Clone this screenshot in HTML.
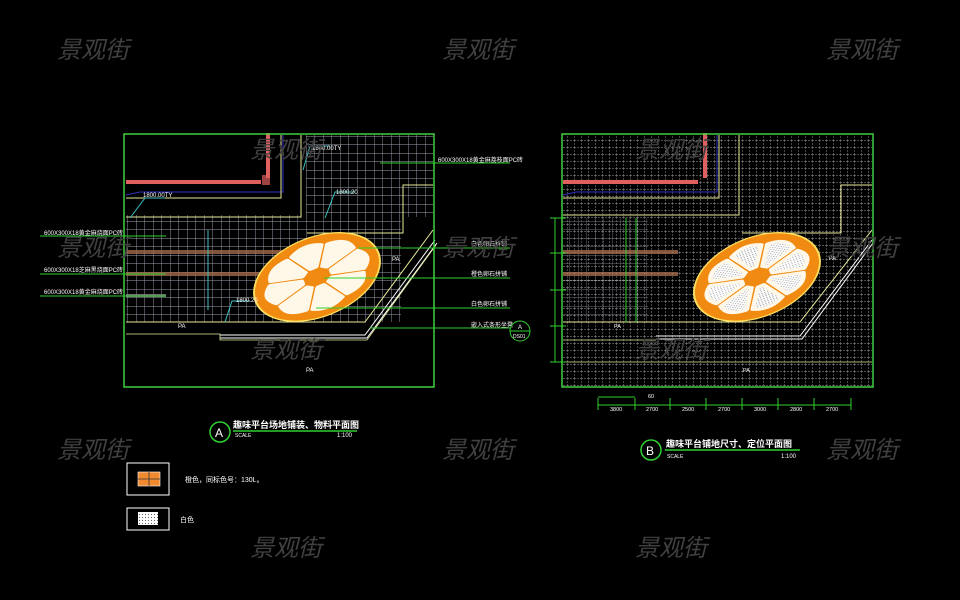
<!DOCTYPE html>
<html><head><meta charset="utf-8"><style>
html,body{margin:0;padding:0;background:#000;}
svg{display:block;}
.wm{font-family:"Liberation Sans","Noto Sans CJK SC",sans-serif;font-size:24px;font-style:italic;fill:#404040;}
.t{font-family:"Liberation Sans","Noto Sans CJK SC",sans-serif;fill:#fff;}
</style></head><body>
<svg width="960" height="600" viewBox="0 0 960 600" xmlns="http://www.w3.org/2000/svg">
<defs>
<pattern id="g1" width="8.5" height="8.5" patternUnits="userSpaceOnUse">
<path d="M0 0H8.5M0 0V8.5" stroke="#a0a0b0" stroke-width="0.9" fill="none"/>
</pattern>
<pattern id="g2" width="7" height="7" patternUnits="userSpaceOnUse">
<path d="M0 0H7M0 0V7" stroke="#9a9a9a" stroke-width="0.9" stroke-dasharray="2 1" fill="none"/>
</pattern>
<pattern id="dots" width="3" height="3" patternUnits="userSpaceOnUse">
<rect width="3" height="3" fill="#fff"/><circle cx="1.5" cy="1.5" r="0.6" fill="#666"/>
</pattern>
<path id="pet" d="M16,-3 L47,-16 Q60,0 47,16 L16,3 Z" stroke-width="5" stroke-linejoin="round"/>
</defs>
<rect width="960" height="600" fill="#000"/>

<g>
<rect x="126" y="215" width="275" height="107" fill="url(#g1)"/>
<rect x="305" y="135" width="128" height="82" fill="url(#g1)"/>
<rect x="126" y="135" width="180" height="80" fill="#000"/>
<rect x="126" y="250" width="208" height="4" fill="#a06a4a" opacity="0.8"/>
<rect x="126" y="272" width="145" height="4" fill="#a06a4a" opacity="0.8"/>
<rect x="126" y="294" width="40" height="3" fill="#8a8a8a" opacity="0.8"/>
<rect x="126" y="180" width="135" height="4" fill="#e06060"/>
<rect x="266" y="133" width="4" height="45" fill="#e06060"/>
<rect x="262" y="175" width="8" height="10" fill="#e06060" opacity="0.7"/>
<path d="M126 195 L140 192 H283 V135" stroke="#3030c0" fill="none" stroke-width="1"/>
<path d="M126 198 H281 V135" stroke="#e8e89a" fill="none" stroke-width="1"/>
<path d="M126 217 H301 V135" stroke="#e8e89a" fill="none" stroke-width="1"/>
<path d="M307 233 H403 V185 H433" stroke="#e8e89a" fill="none" stroke-width="1"/>
<path d="M126 322 H365 L433 230" stroke="#e8e89a" fill="none" stroke-width="1"/>
<path d="M220 335 H365 L435 240 M220 338 H367 L437 243" stroke="#fff" fill="none" stroke-width="1"/>
<path d="M126 334 H220 V340 H367 L436 245" stroke="#e8e89a" fill="none" stroke-width="0.8"/>
<g transform="translate(317,277) rotate(-22) scale(1,0.6)">
<circle r="66" fill="#f08a10" stroke="#ffe060" stroke-width="2"/>
<g fill="#fff8e8" stroke="#fff8e8">
<use href="#pet"/><use href="#pet" transform="rotate(45)"/><use href="#pet" transform="rotate(90)"/><use href="#pet" transform="rotate(135)"/>
<use href="#pet" transform="rotate(180)"/><use href="#pet" transform="rotate(225)"/><use href="#pet" transform="rotate(270)"/><use href="#pet" transform="rotate(315)"/>
</g>
</g>
<rect x="124" y="134" width="310" height="253" fill="none" stroke="#40d040" stroke-width="1.5"/>
<g stroke="#30d030" stroke-width="1" fill="none">
<path d="M380 163 H510"/><path d="M40 236 H166"/><path d="M40 274 H166"/><path d="M40 296 H166"/>
<path d="M358 248 H510"/><path d="M324 278 H510"/><path d="M316 308 H510"/><path d="M370 328 H510"/>
</g>
<g stroke="#40c0c0" stroke-width="1" fill="none">
<path d="M303 170 L310 146 H330"/><path d="M130 218 L145 198 H165"/><path d="M325 218 L335 192 H355"/>
<path d="M225 322 L232 301 H250"/><path d="M208 230 V310"/>
</g>
<g class="t" font-size="6">
<text x="312" y="150">1800.00TY</text><text x="143" y="197">1800.00TY</text><text x="336" y="194">1800.20</text><text x="236" y="302">1800.20</text>
<text x="438" y="162">600X300X18黄金麻荔枝面PC砖</text>
<text x="44" y="235">600X300X18黄金麻烧面PC砖</text><text x="44" y="272">600X300X18芝麻黑烧面PC砖</text><text x="44" y="294">600X300X18黄金麻烧面PC砖</text>
<text x="471" y="246">白色卵石拼铺</text><text x="471" y="276">橙色卵石拼铺</text><text x="471" y="306">白色卵石拼铺</text><text x="471" y="327">嵌入式条形坐凳</text>
<text x="178" y="328">PA</text><text x="392" y="261">PA</text><text x="306" y="372">PA</text>
</g>
<circle cx="520" cy="331" r="10" fill="none" stroke="#30d030"/>
<path d="M510 331 H530" stroke="#30d030"/>
<text class="t" x="518" y="329" font-size="6">A</text><text class="t" x="513" y="338" font-size="5">DS01</text>
</g>

<g>
<rect x="563" y="135" width="309" height="251" fill="url(#g2)"/>
<rect x="563" y="218" width="85" height="105" fill="url(#g1)" opacity="0.7"/>
<rect x="563" y="250" width="115" height="4" fill="#a06a4a" opacity="0.8"/>
<rect x="563" y="272" width="115" height="4" fill="#a06a4a" opacity="0.8"/>
<rect x="563" y="180" width="135" height="4" fill="#e06060"/>
<rect x="703" y="133" width="4" height="45" fill="#e06060"/>
<path d="M563 195 L576 192 H717 V135" stroke="#3030c0" fill="none"/>
<path d="M563 198 H719 V135" stroke="#e8e89a" fill="none"/>
<path d="M563 215 H739 V135" stroke="#e8e89a" fill="none"/>
<path d="M742 233 H841 V185 H872" stroke="#e8e89a" fill="none"/>
<path d="M563 322 H800 L872 230" stroke="#e8e89a" fill="none"/>
<path d="M656 336 H800 L872 240 M656 339 H802 L873 243" stroke="#fff" fill="none"/>
<path d="M563 340 H656 M563 362 H872" stroke="#e8e89a" fill="none" stroke-width="0.8"/>
<g transform="translate(757,277) rotate(-22) scale(1,0.6)">
<circle r="66" fill="#f08a10" stroke="#ffe060" stroke-width="2"/>
<g fill="url(#dots)" stroke="#fff8e8">
<use href="#pet"/><use href="#pet" transform="rotate(45)"/><use href="#pet" transform="rotate(90)"/><use href="#pet" transform="rotate(135)"/>
<use href="#pet" transform="rotate(180)"/><use href="#pet" transform="rotate(225)"/><use href="#pet" transform="rotate(270)"/><use href="#pet" transform="rotate(315)"/>
</g>
</g>
<rect x="562" y="134" width="311" height="253" fill="none" stroke="#40d040" stroke-width="1.5"/>
<g stroke="#30d030" stroke-width="1" fill="none">
<path d="M555 218 V362 M550 218 H566 M550 253 H566 M550 290 H566 M550 326 H566 M550 362 H566"/>
<path d="M626 218 V322 M636 218 V322"/>
<path d="M598 405 H851 M598 398 V410 M635 398 V410 M670 398 V410 M706 398 V410 M742 398 V410 M778 398 V410 M814 398 V410 M851 398 V410"/>
<path d="M598 397 H635"/>
</g>
<g class="t" font-size="5.5">
<text x="610" y="411">3800</text><text x="646" y="411">2700</text><text x="682" y="411">2500</text><text x="718" y="411">2700</text><text x="754" y="411">3000</text><text x="790" y="411">2800</text><text x="826" y="411">2700</text>
<text x="648" y="398">60</text><text x="614" y="328">PA</text><text x="829" y="260">PA</text><text x="743" y="372">PA</text>
</g>
</g>

<circle cx="220" cy="432" r="10" fill="none" stroke="#30d030" stroke-width="1.5"/>
<text class="t" x="215" y="437" font-size="12" font-family="Liberation Serif">A</text>
<text class="t" x="233" y="428" font-size="9" font-weight="bold">趣味平台场地铺装、物料平面图</text>
<path d="M233 431 H357" stroke="#30d030" stroke-width="1.5"/>
<text class="t" x="235" y="437" font-size="5">SCALE</text><text class="t" x="337" y="437" font-size="6">1:100</text>

<circle cx="651" cy="450" r="10" fill="none" stroke="#30d030" stroke-width="1.5"/>
<text class="t" x="646" y="455" font-size="12" font-family="Liberation Serif">B</text>
<text class="t" x="666" y="447" font-size="9" font-weight="bold">趣味平台铺地尺寸、定位平面图</text>
<path d="M665 450 H800" stroke="#30d030" stroke-width="1.5"/>
<text class="t" x="667" y="458" font-size="5">SCALE</text><text class="t" x="781" y="458" font-size="6">1:100</text>

<rect x="127" y="463" width="42" height="32" fill="none" stroke="#fff"/>
<rect x="138" y="472" width="22" height="14" fill="#f08a30" stroke="#fff" stroke-width="0.6"/>
<path d="M149 472 V486 M138 479 H160" stroke="#333" stroke-width="0.8"/>
<text class="t" x="185" y="482" font-size="7">橙色，同标色号：130L。</text>
<rect x="127" y="508" width="42" height="22" fill="none" stroke="#fff"/>
<rect x="138" y="512" width="20" height="13" fill="url(#dots)"/>
<text class="t" x="180" y="522" font-size="7">白色</text>

<g class="wm">
<text x="57" y="58">景观街</text><text x="442" y="58">景观街</text><text x="826" y="58">景观街</text>
<text x="250" y="158">景观街</text><text x="635" y="158">景观街</text>
<text x="57" y="256">景观街</text><text x="442" y="256">景观街</text><text x="826" y="256">景观街</text>
<text x="250" y="358">景观街</text><text x="635" y="358">景观街</text>
<text x="57" y="458">景观街</text><text x="442" y="458">景观街</text><text x="826" y="458">景观街</text>
<text x="250" y="556">景观街</text><text x="635" y="556">景观街</text>
</g>
</svg>
</body></html>
